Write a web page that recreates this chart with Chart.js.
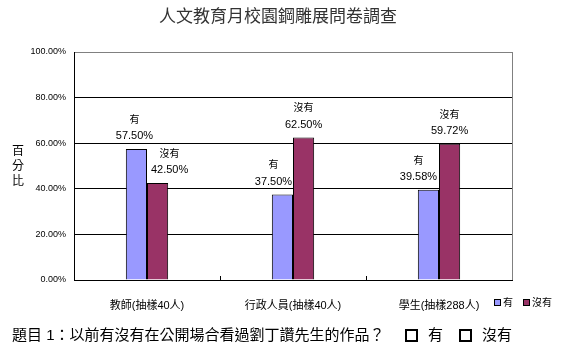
<!DOCTYPE html>
<html>
<head>
<meta charset="utf-8">
<script src="https://cdn.jsdelivr.net/npm/chart.js@4.4.1/dist/chart.umd.min.js"></script>
<style>
  html, body { margin: 0; padding: 0; background: #fff; }
  #wrap { width: 565px; height: 357px; position: relative; }
</style>
</head>
<body>
<div id="wrap"><canvas id="c" width="565" height="357"></canvas></div>
<script>
// ---- data ----
const chartTitle = '人文教育月校園鋼雕展問卷調查';
const categories = ['教師(抽樣40人)', '行政人員(抽樣40人)', '學生(抽樣288人)'];
const seriesNames = ['有', '沒有'];
const yesValues = [57.50, 37.50, 39.58];
const noValues = [42.50, 62.50, 59.72];
const yTickLabels = ['0.00%', '20.00%', '40.00%', '60.00%', '80.00%', '100.00%'];
const yAxisTitle = ['百', '分', '比'];
const questionText = '題目 1：以前有沒有在公開場合看過劉丁讚先生的作品？';
const optionTexts = ['有', '沒有'];

const CJK = '"Liberation Sans", Arial, "Noto Sans CJK TC", sans-serif';
const colors = ['#9999FF', '#993366'];
// horizontal label nudges (style: mimics Excel's label placement)
const labelNudge = [[-2, -9, -10], [12, 0, 0]];

const extras = {
  id: 'extras',
  afterDraw(chart) {
    const ctx = chart.ctx;
    const area = chart.chartArea;
    ctx.save();

    // right border (gray)
    ctx.strokeStyle = '#808080';
    ctx.lineWidth = 1;
    ctx.beginPath();
    ctx.moveTo(Math.round(area.right) + 0.5, area.top);
    ctx.lineTo(Math.round(area.right) + 0.5, area.bottom);
    ctx.stroke();

    // x tick marks at category boundaries (inside)
    ctx.strokeStyle = '#000';
    const n = categories.length;
    const step = (area.right - area.left) / n;
    for (let i = 1; i < n; i++) {
      const x = Math.round(area.left + step * i) + 0.5;
      ctx.beginPath();
      ctx.moveTo(x, area.bottom);
      ctx.lineTo(x, area.bottom - 4);
      ctx.stroke();
    }

    // title
    ctx.fillStyle = '#333';
    ctx.font = '17px ' + CJK;
    ctx.textAlign = 'center';
    ctx.textBaseline = 'middle';
    ctx.fillText(chartTitle, 278, 17);

    // y axis title stacked
    ctx.fillStyle = '#000';
    ctx.font = '12px ' + CJK;
    yAxisTitle.forEach((ch, i) => ctx.fillText(ch, 18, 152 + i * 15));

    // data labels
    chart.data.datasets.forEach((ds, di) => {
      const meta = chart.getDatasetMeta(di);
      meta.data.forEach((bar, i) => {
        const x = bar.x + labelNudge[di][i];
        ctx.fillStyle = '#000';
        ctx.textAlign = 'center';
        ctx.font = '10px ' + CJK;
        ctx.fillText(ds.label, x, bar.y - 29);
        ctx.font = '11px ' + CJK;
        ctx.fillText(ds.data[i].toFixed(2) + '%', x, bar.y - 13);
      });
    });

    // legend
    ctx.font = '10px ' + CJK;
    ctx.textAlign = 'left';
    let lx = 494;
    chart.data.datasets.forEach((ds, di) => {
      ctx.fillStyle = ds.backgroundColor;
      ctx.fillRect(lx, 299, 7, 7);
      ctx.strokeStyle = '#000';
      ctx.strokeRect(lx + 0.5, 299.5, 6, 6);
      ctx.fillStyle = '#000';
      ctx.fillText(ds.label, lx + 9, 303);
      lx += 29;
    });

    // question line
    ctx.font = '15px ' + CJK;
    ctx.textAlign = 'left';
    ctx.fillStyle = '#000';
    ctx.fillText(questionText, 12, 336);
    const boxX = [406, 460];
    const txtX = [428, 482];
    ctx.lineWidth = 2;
    boxX.forEach((bx, i) => {
      ctx.strokeRect(bx, 330, 11, 11);
      ctx.fillText(optionTexts[i], txtX[i], 336);
    });
    ctx.restore();
  }
};

new Chart(document.getElementById('c'), {
  type: 'bar',
  data: {
    labels: categories,
    datasets: [
      { label: seriesNames[0], data: yesValues, backgroundColor: colors[0], borderColor: '#000', borderWidth: 1 },
      { label: seriesNames[1], data: noValues, backgroundColor: colors[1], borderColor: '#000', borderWidth: 1 }
    ]
  },
  options: {
    responsive: false,
    animation: false,
    devicePixelRatio: 1,
    categoryPercentage: 0.29,
    barPercentage: 1,
    layout: { padding: { top: 52, right: 53, left: 0, bottom: 0 } },
    plugins: { legend: { display: false }, title: { display: false }, tooltip: { enabled: false } },
    scales: {
      x: {
        grid: { display: false },
        border: { display: true, color: '#000', width: 1 },
        ticks: { color: '#000', font: { size: 11, family: CJK }, padding: 11, maxRotation: 0, autoSkip: false },
        afterFit(s) { s.height = 77; }
      },
      y: {
        min: 0, max: 100,
        ticks: {
          stepSize: 20,
          color: '#000',
          padding: 8,
          font: { size: 9, family: CJK },
          callback: (v) => yTickLabels[Math.round(v / 20)]
        },
        grid: {
          drawTicks: false,
          color: (c) => (c.tick && c.tick.value === 100 ? '#808080' : '#000')
        },
        border: { display: true, color: '#000', width: 1 },
        afterFit(s) { s.width = 74; }
      }
    }
  },
  plugins: [extras]
});
</script>
</body>
</html>
